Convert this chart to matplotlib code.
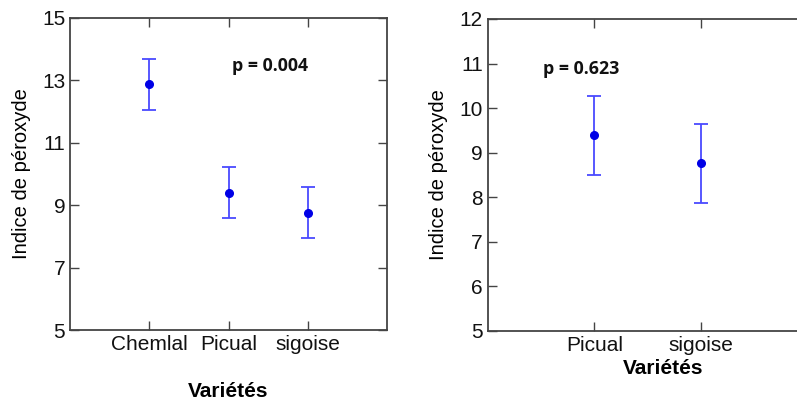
import numpy as np
import matplotlib
matplotlib.use("Agg")
import matplotlib.pyplot as plt

plt.rcParams['font.family'] = ['Liberation Sans', 'DejaVu Sans']

# left panel: three varieties
var_left = ['Chemlal', 'Picual', 'sigoise']
mean_left = [12.87, 9.40, 8.76]
err_left = [0.82, 0.81, 0.82]
p_left = 'p = 0.004'

# right panel: two varieties
var_right = ['Picual', 'sigoise']
mean_right = [9.39, 8.76]
err_right = [0.89, 0.885]
p_right = 'p = 0.623'

W, H = 797, 403
fig = plt.figure(figsize=(W / 100, H / 100), dpi=100)

frame = '#444444'
err_col = '#4a4aff'
pt_col = '#0000e6'


def style(ax):
    for s in ax.spines.values():
        s.set_color(frame)
        s.set_linewidth(1.3)
    ax.tick_params(direction='in', length=6.5, width=1.0, color=frame,
                   labelsize=15, labelcolor='#111111', top=True, right=True,
                   labeltop=False, labelright=False)


# ---------------- left
ax1 = fig.add_axes([70 / W, (H - 330) / H, 317 / W, 312 / H])
x1 = np.arange(1, len(var_left) + 1)
ax1.errorbar(x1, mean_left, yerr=err_left, fmt='none', ecolor=err_col,
             elinewidth=1.3, capsize=5, capthick=1.3)
ax1.plot(x1, mean_left, 'o', color=pt_col, markersize=5.5)
ax1.set_xlim(0, 4)
ax1.set_ylim(5, 15)
ax1.set_yticks([5, 7, 9, 11, 13, 15])
ax1.set_xticks(x1)
ax1.set_xticklabels(var_left)
style(ax1)
ax1.set_ylabel('Indice de péroxyde', fontsize=14.5, labelpad=8)
ax1.set_xlabel('Variétés', fontsize=15, fontweight='bold', labelpad=20)
ax1.text(2.04, 13.46, p_left, fontsize=12.8, fontweight='bold',
         family=['Open Sans', 'DejaVu Sans'], va='center', ha='left', color='#111111')

# ---------------- right
ax2 = fig.add_axes([487.7 / W, (H - 330.7) / H, 320 / W, 311.7 / H])
x2 = np.arange(1, len(var_right) + 1)
ax2.errorbar(x2, mean_right, yerr=err_right, fmt='none', ecolor=err_col,
             elinewidth=1.3, capsize=5, capthick=1.3)
ax2.plot(x2, mean_right, 'o', color=pt_col, markersize=5.5)
ax2.set_xlim(0, 3)
ax2.set_ylim(5, 12)
ax2.set_yticks(range(5, 13))
ax2.set_xticks(x2)
ax2.set_xticklabels(var_right)
style(ax2)
ax2.set_ylabel('Indice de péroxyde', fontsize=14.5, labelpad=8)
ax2.set_xlabel('Variétés', fontsize=15, fontweight='bold', labelpad=8)
ax2.xaxis.set_label_coords((663 - 487.7) / 320, -0.09)
ax2.text(0.515, 10.88, p_right, fontsize=12.8, fontweight='bold',
         family=['Open Sans', 'DejaVu Sans'], va='center', ha='left', color='#111111')

fig.savefig('out.png', dpi=100)
